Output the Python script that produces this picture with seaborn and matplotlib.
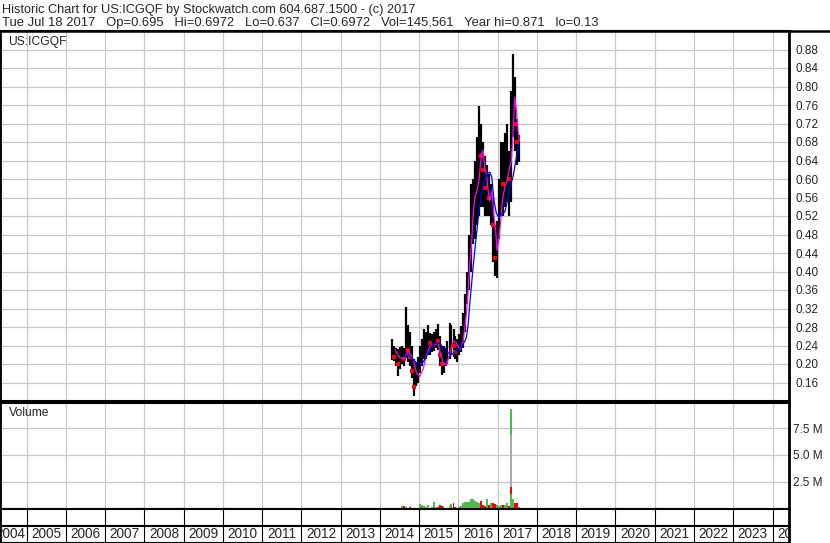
import numpy as np
import pandas as pd
import seaborn as sns
import matplotlib.pyplot as plt
from matplotlib.lines import Line2D

sns.set_style("white")
plt.rcParams['font.family'] = ['Liberation Sans', 'DejaVu Sans']

# price bars, roughly one bar every ~18 days
dates = pd.date_range("2014-04-22", "2017-07-18", periods=65)
bar_high = [0.254, 0.238, 0.235, 0.232, 0.236, 0.238, 0.235, 0.323, 0.285, 0.27,
            0.24, 0.21, 0.205, 0.215, 0.24, 0.253, 0.275, 0.27, 0.285, 0.267,
            0.265, 0.27, 0.275, 0.286, 0.26, 0.24, 0.238, 0.235, 0.25, 0.289,
            0.285, 0.275, 0.26, 0.255, 0.265, 0.282, 0.31, 0.351, 0.40, 0.48,
            0.59, 0.60, 0.64, 0.69, 0.757, 0.72, 0.68, 0.65, 0.63, 0.61,
            0.59, 0.56, 0.50, 0.51, 0.60, 0.68, 0.68, 0.70, 0.72, 0.66,
            0.79, 0.871, 0.82, 0.73, 0.695]
bar_low = [0.209, 0.206, 0.195, 0.173, 0.19, 0.20, 0.195, 0.213, 0.205, 0.195,
           0.17, 0.13, 0.152, 0.159, 0.18, 0.195, 0.21, 0.21, 0.22, 0.22,
           0.225, 0.228, 0.235, 0.23, 0.195, 0.177, 0.18, 0.195, 0.20, 0.21,
           0.22, 0.215, 0.21, 0.205, 0.22, 0.225, 0.235, 0.27, 0.33, 0.36,
           0.40, 0.46, 0.47, 0.50, 0.52, 0.54, 0.54, 0.52, 0.52, 0.52,
           0.50, 0.42, 0.39, 0.387, 0.47, 0.52, 0.52, 0.54, 0.55, 0.52,
           0.55, 0.69, 0.66, 0.63, 0.637]
bar_close = [0.235, 0.215, 0.22, 0.20, 0.215, 0.22, 0.21, 0.26, 0.23, 0.215,
             0.185, 0.15, 0.175, 0.19, 0.22, 0.235, 0.245, 0.25, 0.255, 0.245,
             0.25, 0.255, 0.26, 0.25, 0.22, 0.20, 0.215, 0.22, 0.23, 0.255,
             0.26, 0.24, 0.225, 0.23, 0.24, 0.25, 0.27, 0.31, 0.37, 0.43,
             0.50, 0.56, 0.58, 0.63, 0.68, 0.65, 0.62, 0.58, 0.58, 0.56,
             0.57, 0.50, 0.43, 0.45, 0.53, 0.60, 0.59, 0.63, 0.66, 0.60,
             0.70, 0.80, 0.72, 0.68, 0.6972]
volume_m = [0.05, 0.02, 0.03, 0.03, 0.05, 0.18, 0.18, 0.08, 0.06, 0.08,
            0.06, 0.04, 0.05, 0.05, 0.36, 0.27, 0.2, 0.12, 0.27, 0.05,
            0.08, 0.61, 0.08, 0.12, 0.27, 0.25, 0.2, 0.06, 0.05, 0.2,
            0.36, 0.45, 0.1, 0.05, 0.12, 0.25, 0.45, 0.6, 0.55, 0.6,
            0.84, 0.9, 0.7, 0.55, 0.5, 0.69, 0.3, 0.2, 0.87, 0.3,
            0.5, 0.45, 0.36, 0.3, 0.25, 0.3, 0.35, 0.3, 0.5, 0.2,
            9.3, 0.9, 0.45, 0.45, 0.1]
spike_layers_m = [6.87, 1.97, 1.31]
spike_colors = ['#aaaaaa', '#ff0000', '#4cbb4c']

# moving averages (decimal years)
ma_short_t = [2014.381, 2014.508, 2014.636, 2014.720, 2014.847, 2014.932, 2015.017,
              2015.102, 2015.186, 2015.271, 2015.398, 2015.483, 2015.525, 2015.610,
              2015.695, 2015.780, 2015.864, 2015.949, 2016.034, 2016.119, 2016.203,
              2016.246, 2016.288, 2016.331, 2016.373, 2016.415, 2016.475, 2016.525,
              2016.585, 2016.627, 2016.669, 2016.712, 2016.754, 2016.797, 2016.856,
              2016.898, 2016.941, 2016.983, 2017.025, 2017.068, 2017.119, 2017.178,
              2017.237, 2017.305, 2017.347, 2017.390, 2017.432, 2017.475, 2017.517,
              2017.550]
ma_short = [0.231, 0.213, 0.213, 0.228, 0.21, 0.18, 0.173,
            0.19, 0.22, 0.238, 0.242, 0.245, 0.228, 0.202,
            0.198, 0.224, 0.25, 0.245, 0.231, 0.25, 0.31,
            0.36, 0.415, 0.457, 0.522, 0.56, 0.575, 0.60,
            0.654, 0.662, 0.625, 0.611, 0.575, 0.553, 0.575,
            0.524, 0.495, 0.445, 0.466, 0.503, 0.553, 0.582,
            0.597, 0.625, 0.64, 0.698, 0.777, 0.748, 0.705,
            0.683]
ma_long_t = [2014.636, 2014.720, 2014.847, 2014.932, 2015.059, 2015.144, 2015.229,
             2015.314, 2015.398, 2015.525, 2015.610, 2015.737, 2015.822, 2015.949,
             2016.076, 2016.161, 2016.203, 2016.246, 2016.288, 2016.331, 2016.373,
             2016.415, 2016.458, 2016.500, 2016.568, 2016.653, 2016.729, 2016.797,
             2016.847, 2016.907, 2016.966, 2017.034, 2017.085, 2017.136, 2017.186,
             2017.237, 2017.288, 2017.339, 2017.390, 2017.441, 2017.492, 2017.550]
ma_long = [0.215, 0.22, 0.21, 0.202, 0.199, 0.21, 0.224,
           0.238, 0.245, 0.245, 0.235, 0.224, 0.22, 0.228,
           0.238, 0.249, 0.258, 0.285, 0.33, 0.37, 0.41,
           0.445, 0.48, 0.514, 0.558, 0.595, 0.611, 0.615,
           0.605, 0.552, 0.525, 0.517, 0.524, 0.525, 0.53,
           0.55, 0.575, 0.59, 0.605, 0.63, 0.655, 0.675]

price_ticks = [0.16, 0.20, 0.24, 0.28, 0.32, 0.36, 0.40, 0.44, 0.48, 0.52,
               0.56, 0.60, 0.64, 0.68, 0.72, 0.76, 0.80, 0.84, 0.88]
vol_ticks = [2.5, 5.0, 7.5]
year_labels = list(range(2004, 2025))

header1 = "Historic Chart for US:ICGQF by Stockwatch.com 604.687.1500 - (c) 2017"
header2 = ("Tue Jul 18 2017   Op=0.695   Hi=0.6972   Lo=0.637   Cl=0.6972   "
           "Vol=145,561   Year hi=0.871   lo=0.13")

t = np.array([d.year + (d.dayofyear - 1) / 365.25 for d in dates])
close = np.array(bar_close)
up = np.r_[True, close[1:] >= close[:-1]]
GREEN = '#4cbb4c'

W, H = 830, 543
fig = plt.figure(figsize=(W / 100, H / 100), dpi=100)


def box(l, top, r, b):
    return [l / W, 1 - b / H, (r - l) / W, (b - top) / H]


ax_p = fig.add_axes(box(0, 31, 789, 401))
ax_v = fig.add_axes(box(0, 403, 789, 509))
ax_e = fig.add_axes(box(0, 509, 789, 526))
ax_y = fig.add_axes(box(0, 526, 789, 543))

XMIN, XMAX = 2004.32, 2024.42
grid_kw = dict(color='#c8c8c8', lw=0.9)

# price panel
ax_p.vlines(t, bar_low, bar_high, color='black', lw=1.6, zorder=3)
sns.scatterplot(x=t[~up], y=close[~up], color='#ff0000', marker='s', s=5,
                linewidth=0, ax=ax_p, zorder=4)
sns.lineplot(x=ma_short_t, y=ma_short, color='#ff00ff', lw=0.9, ax=ax_p,
             sort=False, estimator=None, zorder=5)
sns.lineplot(x=ma_long_t, y=ma_long, color='#0000ff', lw=0.9, ax=ax_p,
             sort=False, estimator=None, zorder=6)
ax_p.set_ylim(0.12, 0.92)
ax_p.yaxis.tick_right()
ax_p.set_yticks(price_ticks)
ax_p.set_yticklabels([f"{v:.2f}" for v in price_ticks])
ax_p.tick_params(axis='y', length=0, pad=4.5, labelsize=8.5)
ax_p.grid(True, **grid_kw)
ax_p.set_axisbelow(True)
ax_p.set_xlabel('')
ax_p.set_ylabel('')
ax_p.text(8 / 789, 1 - 11 / 370, "US:ICGQF", transform=ax_p.transAxes,
          fontsize=8.7, va='center', ha='left')

# volume panel
vol = np.array(volume_m) * 1e6
ax_v.bar(t, vol, width=0.05, color=[GREEN if u else '#ff0000' for u in up],
         linewidth=0, zorder=3)
k = int(np.argmax(vol))
for h, c in zip(spike_layers_m, spike_colors):
    ax_v.bar([t[k]], [h * 1e6], width=0.06, color=c, linewidth=0, zorder=4)
ax_v.set_ylim(-0.07e6, 9.87e6)
ax_v.yaxis.tick_right()
ax_v.set_yticks([v * 1e6 for v in vol_ticks])
ax_v.set_yticklabels([f"{v:.1f} M" for v in vol_ticks])
ax_v.tick_params(axis='y', length=0, pad=3, labelsize=8.5)
ax_v.grid(True, **grid_kw)
ax_v.set_axisbelow(True)
ax_v.text(9 / 789, 1 - 10 / 106, "Volume", transform=ax_v.transAxes,
          fontsize=8.7, va='center', ha='left')

# year strip
for ax in (ax_e, ax_y):
    ax.set_yticks([])
    ax.set_ylim(0, 1)
    ax.grid(True, axis='x', color='black', lw=0.8)

for ax in (ax_p, ax_v, ax_e, ax_y):
    ax.set_xticks(year_labels)
    ax.set_xlim(XMIN, XMAX)
    ax.tick_params(axis='x', length=0, labelbottom=False)
    for s in ax.spines.values():
        s.set_color('black')
        s.set_linewidth(1.5)
    ax.spines['right'].set_linewidth(2.0)
    ax.spines['left'].set_linewidth(2.0)

xt = ax_y.get_xaxis_transform()
# first label sits against the boundary of 2005, as in the original
ax_y.text(year_labels[1] - 0.04, 0.5, str(year_labels[0]), transform=xt,
          ha='right', va='center', fontsize=9.8, clip_on=True)
for yr in year_labels[1:]:
    ax_y.text(yr + 0.5, 0.5, str(yr), transform=xt,
              ha='center', va='center', fontsize=9.8, clip_on=True)

# header
fig.add_artist(Line2D([0, 1], [1 - 30.5 / H] * 2, color='black', lw=1.8))
fig.text(2 / W, 1 - 12.5 / H, header1, fontsize=9.2, va='baseline', ha='left')
fig.text(2 / W, 1 - 26 / H, header2, fontsize=9.4, va='baseline', ha='left')

fig.savefig("out.png", dpi=100)
